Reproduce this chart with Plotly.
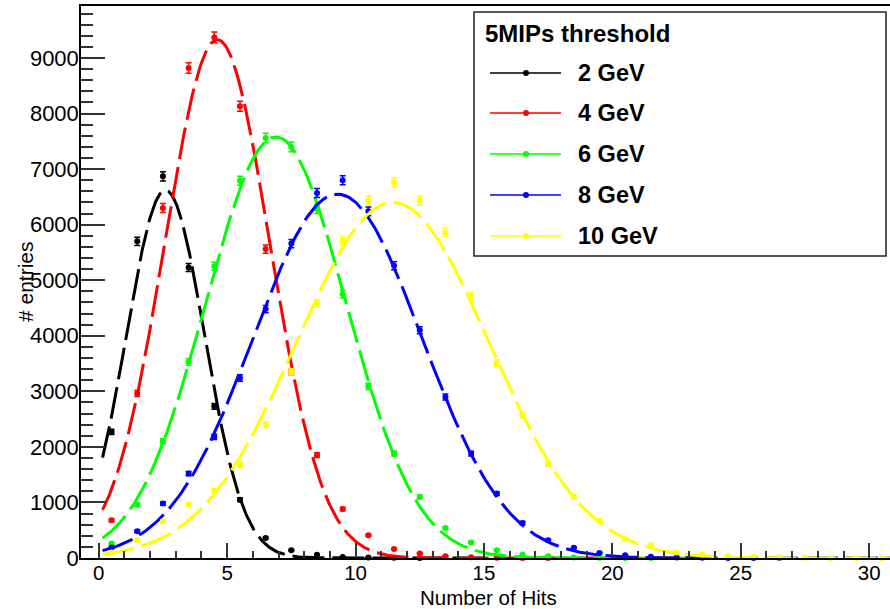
import numpy as np
import plotly.graph_objects as go

# ---------------- data ----------------
bin_centers = [i + 0.5 for i in range(31)]
series_names = ["2 GeV", "4 GeV", "6 GeV", "8 GeV", "10 GeV"]
series_colors = ["#000000", "#ff0000", "#00ff00", "#0000ff", "#ffff00"]

counts_2gev = [2270, 5700, 6870, 5230, 2730, 1050, 360, 140, 60, 20, 10, 3, 1,
               None, None, None, None, None, None, None, None, None, None, None,
               None, None, None, None, None, None, None]
counts_4gev = [680, 2960, 6300, 8820, 9370, 8130, 5560, 3350, 1850, 880, 410, 160,
               80, 30, 12, 5, 2, 1, None, None, None, None, None, None, None, None,
               None, None, None, None, None]
counts_6gev = [260, 960, 2100, 3530, 5250, 6790, 7560, 7400, 6280, 4750, 3090, 1880,
               1100, 540, 280, 140, 60, 30, 10, 5, 2, 1, None, None, None, None,
               None, None, None, None, None]
counts_8gev = [190, 480, 980, 1520, 2180, 3240, 4480, 5660, 6570, 6800, 6240, 5260,
               4100, 2900, 1880, 1160, 630, 320, 186, 92, 50, 22, 10, 4, 2, 1, 1,
               None, None, None, None]
counts_10gev = [100, 320, 660, 960, 1210, 1680, 2400, 3350, 4580, 5710, 6440, 6760,
                6430, 5860, 4710, 3510, 2570, 1690, 1100, 670, 340, 235, 100, 62, 36,
                18, 8, 4, 2, 1, 1]
all_counts = [counts_2gev, counts_4gev, counts_6gev, counts_8gev, counts_10gev]

# Gaussian fit parameters (amplitude, mean, sigma, fit range)
fit_amp = [6620, 9330, 7580, 6550, 6400]
fit_mean = [2.60, 4.62, 6.90, 9.30, 11.45]
fit_sigma = [1.52, 2.05, 2.73, 3.28, 3.75]
fit_xmin = [0.15, 0.15, 0.15, 0.15, 0.15]
fit_xmax = [15.0, 20.0, 23.5, 30.8, 30.8]

legend_title = "5MIPs threshold"
x_tick_vals = [0, 5, 10, 15, 20, 25, 30]
y_tick_vals = [0, 1000, 2000, 3000, 4000, 5000, 6000, 7000, 8000, 9000]
x_title = "Number of Hits"
y_title = "# entries"

# ---------------- figure ----------------
W, H = 890, 609
ML, MR, MT, MB = 81, 0, 6, 51
PW, PH = W - ML - MR, H - MT - MB
FONT = "Liberation Sans, Arial, Helvetica, sans-serif"

fig = go.Figure()

for name, color, counts, a, mu, s, x0, x1 in zip(series_names, series_colors, all_counts,
                                                fit_amp, fit_mean, fit_sigma,
                                                fit_xmin, fit_xmax):
    errs = [np.sqrt(c) if c is not None else None for c in counts]
    fig.add_trace(go.Scatter(
        x=bin_centers, y=counts, mode="markers", name=name,
        marker=dict(color=color, size=6, symbol="circle"),
        error_y=dict(type="data", array=errs, color=color, thickness=1.5, width=3),
        showlegend=False, cliponaxis=False,
    ))
    xf = np.linspace(x0, x1, 400)
    yf = a * np.exp(-0.5 * ((xf - mu) / s) ** 2)
    fig.add_trace(go.Scatter(
        x=xf, y=yf, mode="lines", name=name + " fit",
        line=dict(color=color, width=3, dash="32px,8px"),
        showlegend=False, hoverinfo="skip",
    ))


def px_x(px):
    return (px - ML) / PW


def px_y(py):
    return (H - MB - py) / PH


shapes = []
annotations = []
# legend box
shapes.append(dict(type="rect", xref="paper", yref="paper",
                   x0=px_x(474), x1=px_x(886), y0=px_y(256), y1=px_y(12),
                   line=dict(color="#222222", width=1.5), fillcolor="white",
                   layer="above"))
annotations.append(dict(text=legend_title, xref="paper", yref="paper",
                        x=px_x(483), y=px_y(33), xanchor="left", yanchor="middle",
                        showarrow=False,
                        font=dict(family=FONT, size=24, color="black", weight=700)))
row_y = [73, 113, 154, 195, 236]
for name, color, ry in zip(series_names, series_colors, row_y):
    shapes.append(dict(type="line", xref="paper", yref="paper",
                       x0=px_x(490), x1=px_x(561), y0=px_y(ry), y1=px_y(ry),
                       line=dict(color=color, width=1.5), layer="above"))
    shapes.append(dict(type="circle", xref="paper", yref="paper",
                       xsizemode="pixel", ysizemode="pixel",
                       xanchor=px_x(526), yanchor=px_y(ry),
                       x0=-3, x1=3, y0=-3, y1=3,
                       fillcolor=color, line=dict(color=color, width=0),
                       layer="above"))
    annotations.append(dict(text=name, xref="paper", yref="paper",
                            x=px_x(576), y=px_y(ry), xanchor="left", yanchor="middle",
                            showarrow=False,
                            font=dict(family=FONT, size=23.5, color="black", weight=700)))

# axis titles
annotations.append(dict(text=x_title, xref="paper", yref="paper",
                        x=px_x(488), y=px_y(597), xanchor="center", yanchor="middle",
                        showarrow=False, borderpad=0,
                        font=dict(family=FONT, size=20.5, color="black")))
annotations.append(dict(text=y_title, xref="paper", yref="paper",
                        x=px_x(25), y=px_y(282), xanchor="center", yanchor="middle",
                        textangle=-90, showarrow=False,
                        font=dict(family=FONT, size=21, color="black")))

fig.update_layout(
    width=W, height=H,
    margin=dict(l=ML, r=MR, t=MT, b=MB, pad=0),
    paper_bgcolor="white", plot_bgcolor="white",
    showlegend=False,
    font=dict(family=FONT, size=20, color="black"),
    shapes=shapes, annotations=annotations,
)

fig.update_xaxes(
    range=[-0.69, 30.81], showgrid=False, zeroline=False,
    showline=True, linecolor="black", linewidth=1.5, mirror=True,
    ticks="inside", ticklen=15, tickwidth=1.5, tickcolor="#333333",
    tickvals=x_tick_vals, tickfont=dict(family=FONT, size=20.5, color="black"),
    ticklabelstandoff=-4,
    minor=dict(ticks="inside", ticklen=7, tickwidth=1.5, tickcolor="#333333",
               dtick=1, tick0=0, showgrid=False),
    automargin=False,
)
fig.update_yaxes(
    range=[0, 9936], showgrid=False, zeroline=False,
    showline=True, linecolor="black", linewidth=1.5, mirror=True,
    ticks="inside", ticklen=24, tickwidth=1.5, tickcolor="#333333",
    tickvals=y_tick_vals, tickfont=dict(family=FONT, size=22, color="black"),
    ticklabelstandoff=-4,
    minor=dict(ticks="inside", ticklen=12, tickwidth=1.5, tickcolor="#333333",
               dtick=200, tick0=0, showgrid=False),
    automargin=False,
)

fig.write_html("out.html")
